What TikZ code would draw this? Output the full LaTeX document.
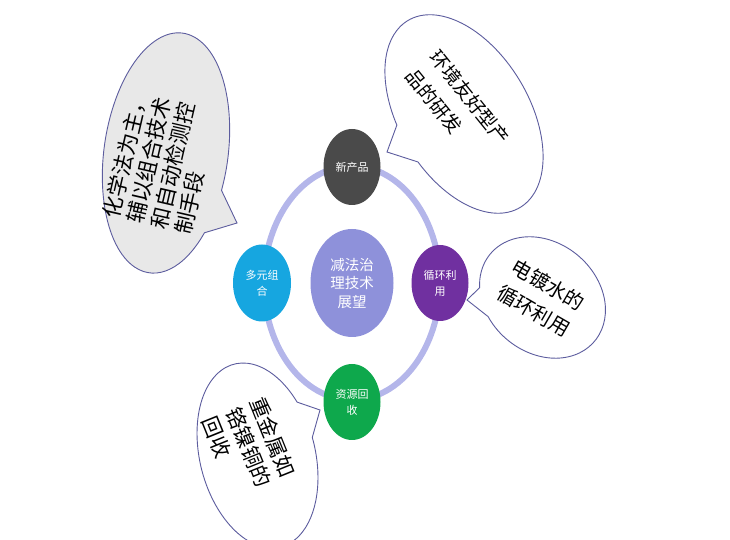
\documentclass[tikz,border=0pt]{standalone}
\usepackage{fontspec}
\setmainfont{Noto Sans CJK SC}
\usetikzlibrary{shapes.geometric}
\definecolor{ringc}{RGB}{180,182,234}
\definecolor{centerc}{RGB}{142,145,218}
\definecolor{darkc}{RGB}{74,74,74}
\definecolor{bluec}{RGB}{22,166,224}
\definecolor{purplec}{RGB}{112,48,160}
\definecolor{greenc}{RGB}{14,168,76}
\definecolor{bubline}{RGB}{92,92,158}
\definecolor{graybub}{RGB}{232,232,232}
\begin{document}
\begin{tikzpicture}[x=1pt,y=1pt,
  hub/.style={ellipse, inner sep=0pt, minimum width=57pt, minimum height=76pt,
    text=white, align=center, font=\fontsize{11}{16}\selectfont},
  bubble/.style={draw=bubline, line width=0.9pt, fill=white},
  bubtext/.style={align=left, inner sep=0pt, text=black}]
\useasboundingbox (0,0) rectangle (730,540);
\clip (0,0) rectangle (730,540);

% tail tips
\coordinate (tipA) at (237,317);
\coordinate (tipB) at (387,388);
\coordinate (tipC) at (467,240);
\coordinate (tipD) at (320,130);

% top-left bubble
\begin{scope}[shift={(166,387)}, rotate=82]
\draw[bubble, fill=graybub] (256:121 and 62) arc[start angle=256, end angle=592.5, x radius=121, y radius=62] -- (tipA) -- cycle;
\end{scope}
% top-right bubble
\begin{scope}[shift={(464,426)}, rotate=-59]
\draw[bubble] (279.2:109 and 65) arc[start angle=279.2, end angle=616.7, x radius=109, y radius=65] -- (tipB) -- cycle;
\end{scope}
% right bubble
\begin{scope}[shift={(542.5,242.5)}, rotate=-40]
\draw[bubble] (244.4:68 and 55) arc[start angle=244.4, end angle=576.7, x radius=68, y radius=55] -- (tipC) -- cycle;
\end{scope}
% bottom-left bubble
\begin{scope}[shift={(257.5,84.5)}, rotate=-75.7]
\draw[bubble] (116.4:94.3 and 57.6) arc[start angle=116.4, end angle=452.4, x radius=94.3, y radius=57.6] -- (tipD) -- cycle;
\end{scope}

% bubble texts
\node[bubtext, rotate=77, font=\fontsize{21.5}{24.5}\selectfont] (tA) at (161,377) {化学法为主，\\辅以组合技术\\和自动检测控\\制手段};
\node[bubtext, rotate=-51, font=\fontsize{19}{30}\selectfont] (tB) at (458,433) {环境友好型产\\品的研发};
\node[bubtext, rotate=-30, font=\fontsize{20}{29}\selectfont] (tC) at (541,242) {电镀水的\\循环利用};
\node[bubtext, rotate=-68, font=\fontsize{21}{26}\selectfont] (tD) at (249,93) {重金属如\\铬镍铜的\\回收};

% ring
\draw[ringc, line width=6pt] (352,257) ellipse [x radius=88, y radius=117];

% hubs
\node[hub, fill=centerc, minimum width=83pt, minimum height=108pt,
  font=\fontsize{14.5}{18.5}\selectfont] (c) at (352,257) {减法治\\理技术\\展望};
\node[hub, fill=darkc] (n) at (352,373) {新产品};
\node[hub, fill=bluec, minimum width=58pt, minimum height=77pt] (l) at (262,257) {多元组\\合};
\node[hub, fill=purplec] (r) at (440,257) {循环利\\用};
\node[hub, fill=greenc] (b) at (352,138) {资源回\\收};
\end{tikzpicture}
\end{document}
